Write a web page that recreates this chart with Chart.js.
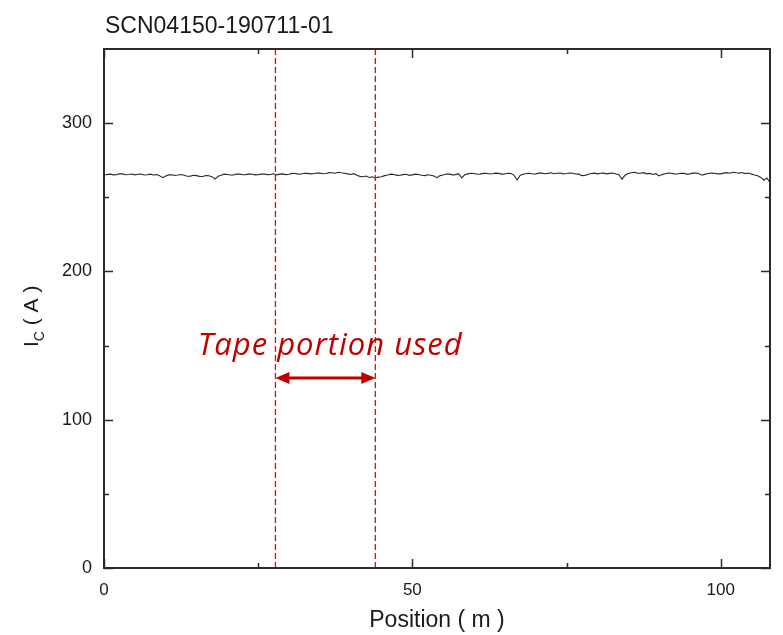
<!DOCTYPE html>
<html>
<head>
  <title>Ic vs Position</title>
  <script src="https://cdn.jsdelivr.net/npm/chart.js"></script>
  <style>
    body {
      margin: 0;
      background: #fff;
    }
    #wrap {
      position: relative;
      width: 783px;
      height: 635px;
    }
  </style>
</head>
<body>
<div id="wrap"><canvas id="icChart"></canvas></div>

<script>
  // position along the tape (m) and critical current (A)
  const positions = [0,0.5,1,1.5,2,2.5,3,3.5,4,4.5,5,5.5,6,6.5,7,7.5,8,8.5,9,9.5,
    10,10.5,11,11.5,12,12.5,13,13.5,14,14.5,15,15.5,16,16.5,17,17.5,18,18.5,19,19.5,
    20,20.5,21,21.5,22,22.5,23,23.5,24,24.5,25,25.5,26,26.5,27,27.5,28,28.5,29,29.5,
    30,30.5,31,31.5,32,32.5,33,33.5,34,34.5,35,35.5,36,36.5,37,37.5,38,38.5,39,39.5,
    40,40.5,41,41.5,42,42.5,43,43.5,44,44.5,45,45.5,46,46.5,47,47.5,48,48.5,49,49.5,
    50,50.5,51,51.5,52,52.5,53,53.5,54,54.5,55,55.5,56,56.5,57,57.5,58,58.5,59,59.5,
    60,60.5,61,61.5,62,62.5,63,63.5,64,64.5,65,65.5,66,66.5,67,67.5,68,68.5,69,69.5,
    70,70.5,71,71.5,72,72.5,73,73.5,74,74.5,75,75.5,76,76.5,77,77.5,78,78.5,79,79.5,
    80,80.5,81,81.5,82,82.5,83,83.5,84,84.5,85,85.5,86,86.5,87,87.5,88,88.5,89,89.5,
    90,90.5,91,91.5,92,92.5,93,93.5,94,94.5,95,95.5,96,96.5,97,97.5,98,98.5,99,99.5,
    100,100.5,101,101.5,102,102.5,103,103.5,104,104.5,105,105.5,106,106.5,107,107.5,107.9];
  const icValues = [265.0,265.4,265.6,265.1,265.3,265.9,265.8,265.2,265.4,265.7,265.1,265.5,265.7,265.0,265.2,265.6,265.0,265.3,264.6,263.2,
    264.4,265.1,265.2,264.7,265.0,265.4,264.8,264.2,264.3,264.8,264.6,264.1,264.0,264.7,264.5,263.9,262.3,264.2,264.9,265.6,
    265.4,265.0,265.1,265.7,265.6,265.2,265.3,265.8,265.5,265.1,265.2,265.6,265.7,265.3,265.4,265.9,265.1,265.6,265.8,265.3,
    265.5,266.1,266.0,265.6,265.7,266.2,266.1,265.8,265.9,266.4,266.3,265.9,266.0,266.6,266.5,266.2,266.9,266.5,266.2,265.8,
    265.4,265.9,264.8,264.1,263.9,264.3,263.4,263.8,263.0,263.6,263.8,264.6,265.0,265.6,265.4,264.8,264.9,265.3,265.5,264.8,
    265.1,265.6,265.4,264.9,264.6,265.2,264.9,264.3,263.2,264.6,265.0,265.7,265.6,265.1,265.3,265.9,263.1,265.2,265.8,266.2,
    266.0,265.5,265.6,266.1,266.2,265.7,265.9,266.3,266.1,265.6,265.7,266.2,266.0,264.8,261.6,264.9,265.5,266.0,266.2,265.7,
    265.8,266.3,266.3,265.9,266.1,266.5,265.9,266.2,266.4,265.8,266.0,266.4,266.2,265.7,265.6,264.6,264.8,265.5,266.0,266.3,
    265.8,266.2,266.3,265.8,266.1,266.4,265.7,265.2,262.2,264.9,266.0,266.5,266.9,266.3,266.2,266.6,265.8,266.1,265.4,265.9,
    264.4,265.3,265.9,266.3,266.2,265.8,265.7,266.2,266.1,265.6,265.8,266.3,266.3,265.9,264.9,265.6,266.0,266.4,266.2,265.8,
    265.8,266.3,266.6,266.2,266.9,266.5,266.3,266.7,266.0,266.4,265.6,265.0,264.5,263.4,261.5,263.0,260.5];

  // section of tape that was used (m)
  const usedStart = 27.8;
  const usedEnd = 44.0;
  const arrowLevel = 128.1;
  const noteX = 15.2;
  const noteY = 143.9;
  const noteText = "Tape portion used";

  const xTicks = [0, 50, 100];
  const xMinor = [25, 75];
  const yTicks = [0, 100, 200, 300];
  const yMinor = [50, 150, 250];

  const titleText = "SCN04150-190711-01";
  const xTitle = "Position ( m )";

  const red = "#c00000";
  const axisColor = "#2b2b2b";

  const tracePoints = positions.map((p, i) => ({ x: p, y: icValues[i] }));

  const framePlugin = {
    id: "frame",
    afterDraw(chart) {
      const ctx = chart.ctx;
      const area = chart.chartArea;
      const xs = chart.scales.x;
      const ys = chart.scales.y;
      ctx.save();

      // arrow heads
      const ay = ys.getPixelForValue(arrowLevel);
      const ax1 = xs.getPixelForValue(usedStart);
      const ax2 = xs.getPixelForValue(usedEnd);
      ctx.fillStyle = red;
      ctx.beginPath();
      ctx.moveTo(ax1, ay);
      ctx.lineTo(ax1 + 14, ay - 6);
      ctx.lineTo(ax1 + 14, ay + 6);
      ctx.closePath();
      ctx.fill();
      ctx.beginPath();
      ctx.moveTo(ax2, ay);
      ctx.lineTo(ax2 - 14, ay - 6);
      ctx.lineTo(ax2 - 14, ay + 6);
      ctx.closePath();
      ctx.fill();

      // annotation
      ctx.font = "italic 31px 'Open Sans', Lato, sans-serif";
      ctx.letterSpacing = "1px";
      ctx.textBaseline = "alphabetic";
      ctx.textAlign = "left";
      ctx.fillText(noteText, xs.getPixelForValue(noteX), ys.getPixelForValue(noteY));
      ctx.letterSpacing = "0px";

      // box
      ctx.strokeStyle = axisColor;
      ctx.lineWidth = 2;
      ctx.strokeRect(area.left, area.top, area.right - area.left, area.bottom - area.top);

      // inward ticks on all sides
      ctx.lineWidth = 1.5;
      const major = 9, minor = 5;
      const tickX = (v, len) => {
        const px = Math.round(xs.getPixelForValue(v)) + 0.5;
        ctx.beginPath();
        ctx.moveTo(px, area.bottom); ctx.lineTo(px, area.bottom - len);
        ctx.moveTo(px, area.top); ctx.lineTo(px, area.top + len);
        ctx.stroke();
      };
      const tickY = (v, len) => {
        const py = Math.round(ys.getPixelForValue(v)) + 0.5;
        ctx.beginPath();
        ctx.moveTo(area.left, py); ctx.lineTo(area.left + len, py);
        ctx.moveTo(area.right, py); ctx.lineTo(area.right - len, py);
        ctx.stroke();
      };
      xTicks.forEach(v => tickX(v, major));
      xMinor.forEach(v => tickX(v, minor));
      yTicks.forEach(v => tickY(v, major));
      yMinor.forEach(v => tickY(v, minor));

      // titles
      ctx.fillStyle = "#1a1a1a";
      ctx.font = "23px Arial, 'Liberation Sans', sans-serif";
      ctx.textAlign = "left";
      ctx.fillText(titleText, 105, 33);

      ctx.textAlign = "center";
      ctx.fillText(xTitle, (area.left + area.right) / 2, 627);

      // y title: I with subscript C, rotated
      ctx.translate(38, 347);
      ctx.rotate(-Math.PI / 2);
      ctx.textAlign = "left";
      ctx.font = "21px Arial, 'Liberation Sans', sans-serif";
      ctx.fillText("I", 0, 0);
      let w = ctx.measureText("I").width;
      ctx.font = "14px Arial, 'Liberation Sans', sans-serif";
      ctx.fillText("C", w, 6);
      w += ctx.measureText("C").width;
      ctx.font = "21px Arial, 'Liberation Sans', sans-serif";
      ctx.fillText(" ( A )", w, 0);

      ctx.restore();
    }
  };

  const ctx = document.getElementById("icChart").getContext("2d");
  new Chart(ctx, {
    type: "line",
    data: {
      datasets: [
        {
          data: [{ x: usedStart, y: 0 }, { x: usedStart, y: 350 }],
          borderColor: "#ff0000",
          borderWidth: 1.3,
          borderDash: [6, 3],
          pointRadius: 0
        },
        {
          data: [{ x: usedEnd, y: 0 }, { x: usedEnd, y: 350 }],
          borderColor: "#ff0000",
          borderWidth: 1.3,
          borderDash: [6, 3],
          pointRadius: 0
        },
        {
          data: [{ x: usedStart + 1.5, y: arrowLevel }, { x: usedEnd - 1.5, y: arrowLevel }],
          borderColor: red,
          borderWidth: 3,
          pointRadius: 0
        },
        {
          label: "Ic",
          data: tracePoints,
          borderColor: "#2a2a2a",
          borderWidth: 1.1,
          pointRadius: 0,
          tension: 0
        }
      ]
    },
    options: {
      responsive: true,
      maintainAspectRatio: false,
      animation: false,
      layout: { padding: { top: 49, right: 13, left: 0, bottom: 0 } },
      plugins: {
        legend: { display: false },
        tooltip: { enabled: false }
      },
      scales: {
        x: {
          type: "linear",
          min: 0,
          max: 108,
          grid: { display: false },
          border: { display: false },
          afterBuildTicks: (s) => { s.ticks = xTicks.map(v => ({ value: v })); },
          afterFit: (s) => { s.height = 67; },
          ticks: {
            color: "#1a1a1a",
            font: { family: "Arial", size: 17 },
            padding: 4,
            maxRotation: 0
          }
        },
        y: {
          min: 0,
          max: 350,
          grid: { display: false },
          border: { display: false },
          afterBuildTicks: (s) => { s.ticks = yTicks.map(v => ({ value: v })); },
          afterFit: (s) => { s.width = 104; },
          ticks: {
            color: "#1a1a1a",
            font: { family: "Arial", size: 18 },
            padding: 4
          }
        }
      }
    },
    plugins: [framePlugin]
  });
</script>
</body>
</html>
